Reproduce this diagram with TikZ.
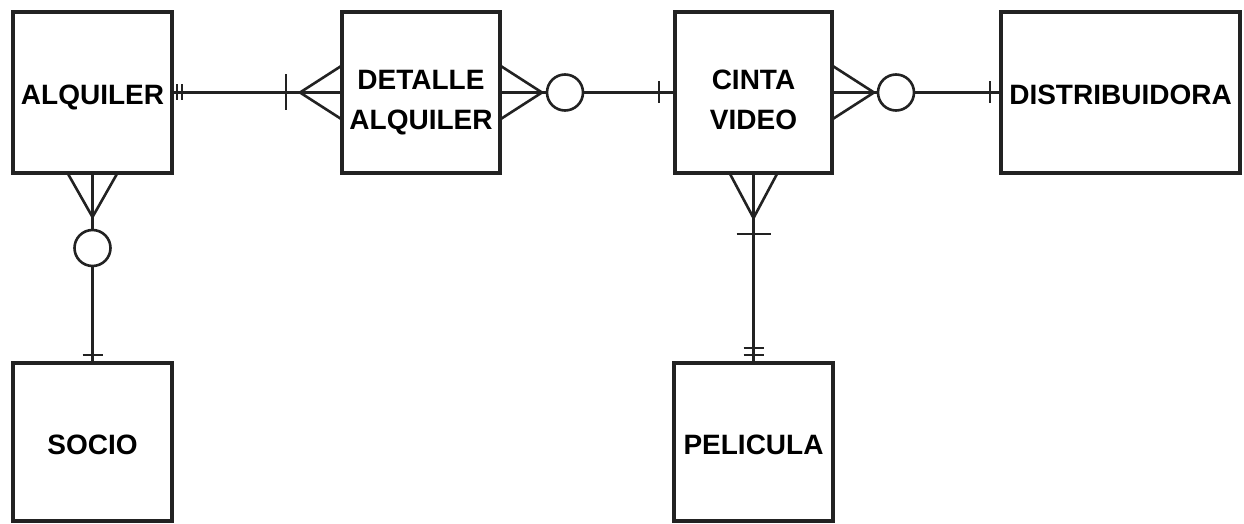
\documentclass[tikz,border=0pt]{standalone}
\usepackage{fontspec}
\setmainfont{Liberation Sans}
\usetikzlibrary{positioning,calc}
\definecolor{edge}{HTML}{222222}
\tikzset{
  ent/.style  = {draw=edge, line width=3.4pt, outer sep=0pt, inner sep=2pt,
                 minimum width=159pt, minimum height=161pt, align=center,
                 text height=25pt, text depth=0pt,
                 font=\fontsize{28}{40}\selectfont\bfseries},
  ent2/.style = {ent, text height=75pt},
  rel/.style  = {draw=edge, line width=2.6pt},
  ring/.style = {circle, draw=edge, line width=2.6pt, minimum size=36pt,
                 inner sep=0pt, outer sep=0pt},
}

\begin{document}
\begin{tikzpicture}[x=1pt,y=1pt]
  \useasboundingbox (0,0) rectangle (1244,-524);
  % entities
  \node[ent] (alq) at (92.5,-92.5) {ALQUILER};
  \node[ent2, right=170pt of alq, minimum width=158pt] (det) {DETALLE\\ALQUILER};
  \node[ent2, right=175pt of det, minimum width=157pt] (cin) {CINTA\\VIDEO};
  \node[ent, right=169pt of cin, minimum width=239pt] (dis) {DISTRIBUIDORA};
  \node[ent, below=190pt of alq, minimum height=158pt] (soc) {SOCIO};
  \node[ent, below=190pt of cin, minimum height=158pt] (pel) {PELICULA};
  % optional markers
  \node[ring] (o1) at ($(det.east)+(65,0)$) {};
  \node[ring] (o2) at ($(cin.east)+(64,0)$) {};
  \node[ring] (o3) at ($(alq.south)+(0,-75)$) {};
  % ALQUILER -- DETALLE ALQUILER
  \draw[rel] (alq.east) -- (det.west);
  \draw[rel] ($(alq.east)+(5,8)$) -- ($(alq.east)+(5,-8)$);
  \draw[rel] ($(alq.east)+(10,8)$) -- ($(alq.east)+(10,-8)$);
  \draw[rel] ($(det.west)+(-56,18)$) -- ($(det.west)+(-56,-18)$);
  \draw[rel] ($(det.west)+(0,27)$) -- ($(det.west)+(-42,0)$) -- ($(det.west)+(0,-27)$);
  % DETALLE ALQUILER -- CINTA VIDEO
  \draw[rel] (det.east) -- (o1.west);
  \draw[rel] ($(det.east)+(0,27)$) -- ($(det.east)+(42,0)$) -- ($(det.east)+(0,-27)$);
  \draw[rel] (o1.east) -- (cin.west);
  \draw[rel] ($(cin.west)+(-16,11)$) -- ($(cin.west)+(-16,-11)$);
  % CINTA VIDEO -- DISTRIBUIDORA
  \draw[rel] (cin.east) -- (o2.west);
  \draw[rel] ($(cin.east)+(0,27)$) -- ($(cin.east)+(42,0)$) -- ($(cin.east)+(0,-27)$);
  \draw[rel] (o2.east) -- (dis.west);
  \draw[rel] ($(dis.west)+(-11,11)$) -- ($(dis.west)+(-11,-11)$);
  % ALQUILER -- SOCIO
  \draw[rel] (alq.south) -- (o3.north);
  \draw[rel] ($(alq.south)+(-25,0)$) -- ($(alq.south)+(0,-44)$) -- ($(alq.south)+(25,0)$);
  \draw[rel] (o3.south) -- (soc.north);
  \draw[rel] ($(soc.north)+(-10,8)$) -- ($(soc.north)+(10,8)$);
  % CINTA VIDEO -- PELICULA
  \draw[rel] (cin.south) -- (pel.north);
  \draw[rel] ($(cin.south)+(-24,0)$) -- ($(cin.south)+(0,-45)$) -- ($(cin.south)+(24,0)$);
  \draw[rel] ($(cin.south)+(-17,-61)$) -- ($(cin.south)+(17,-61)$);
  \draw[rel] ($(pel.north)+(-10,15)$) -- ($(pel.north)+(10,15)$);
  \draw[rel] ($(pel.north)+(-10,8)$) -- ($(pel.north)+(10,8)$);
\end{tikzpicture}
\end{document}
